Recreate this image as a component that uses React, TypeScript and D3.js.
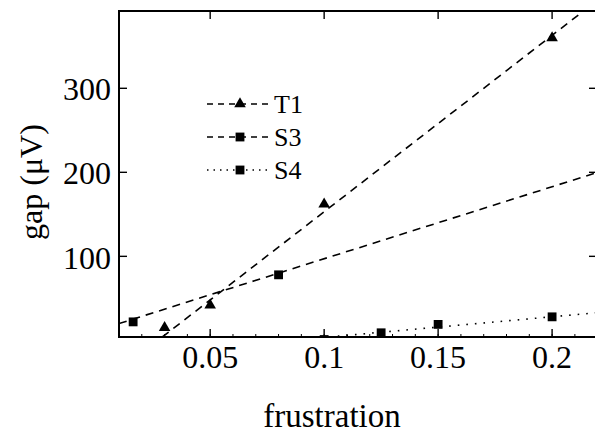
import * as d3 from "d3";

// measured points
const t1Points: [number, number][] = [
  [0.03, 15],
  [0.05, 42],
  [0.1, 162],
  [0.2, 360],
];
const s3Points: [number, number][] = [
  [0.0162, 22],
  [0.08, 78],
];
const s4Points: [number, number][] = [
  [0.1, 1],
  [0.125, 9],
  [0.15, 19],
  [0.2, 28],
];

// fitted lines drawn through the data
const t1Fit: [number, number][] = [
  [0.029, 4],
  [0.22, 405],
];
const s3Fit: [number, number][] = [
  [0.01, 20],
  [0.22, 200],
];
const s4Fit: [number, number][] = [
  [0.106, 5],
  [0.22, 33],
];

const xTicks = [0.05, 0.1, 0.15, 0.2];
const xMinor = d3.range(1, 23).map((d) => d / 100);
const yTicks = [100, 200, 300];

const legendItems = [
  { name: "T1", shape: "tri", dash: "6,5" },
  { name: "S3", shape: "sq", dash: "6,5" },
  { name: "S4", shape: "sq", dash: "1.5,5" },
];

const width = 595;
const height = 440;
const margin = { top: 11, right: -2, bottom: 103, left: 119 };
const innerWidth = width - margin.left - margin.right;
const innerHeight = height - margin.top - margin.bottom;
const font = "Liberation Serif";

const App = () => {
  const x = d3.scaleLinear().domain([0.01, 0.2197]).range([0, innerWidth]);
  const y = d3.scaleLinear().domain([4, 392]).range([innerHeight, 0]);
  const line = d3
    .line<[number, number]>()
    .x((d) => x(d[0]))
    .y((d) => y(d[1]));
  const tri = d3.symbol().type(d3.symbolTriangle).size(58)() || "";
  const sq = d3.symbol().type(d3.symbolSquare).size(78)() || "";

  const fits: [[number, number][], string][] = [
    [t1Fit, "8,6"],
    [s3Fit, "8,6"],
    [s4Fit, "1.6,7"],
  ];

  return (
    <svg width={width} height={height} style={{ position: "absolute", left: 0, top: 0 }}>
      <defs>
        <clipPath id="plot-clip">
          <rect width={innerWidth} height={innerHeight} />
        </clipPath>
      </defs>
      <g transform={`translate(${margin.left},${margin.top})`}>
        <g clipPath="url(#plot-clip)">
          {fits.map(([pts, dash], i) => (
            <path
              key={i}
              d={line(pts) || ""}
              fill="none"
              stroke="#000"
              strokeWidth={1.6}
              strokeDasharray={dash}
            />
          ))}
          {t1Points.map((d, i) => (
            <path key={"t" + i} d={tri} transform={`translate(${x(d[0])},${y(d[1])})`} fill="#000" />
          ))}
          {[...s3Points, ...s4Points].map((d, i) => (
            <path key={"s" + i} d={sq} transform={`translate(${x(d[0])},${y(d[1])})`} fill="#000" />
          ))}
        </g>
        <rect width={innerWidth} height={innerHeight} fill="none" stroke="#000" strokeWidth={2} />
        {xMinor.map((t) => (
          <line key={"m" + t} x1={x(t)} x2={x(t)} y1={innerHeight} y2={innerHeight - 3} stroke="#000" strokeWidth={1} />
        ))}
        {xTicks.map((t) => (
          <g key={"x" + t}>
            <line x1={x(t)} x2={x(t)} y1={innerHeight} y2={innerHeight - 8} stroke="#000" strokeWidth={1.4} />
            <line x1={x(t)} x2={x(t)} y1={0} y2={8} stroke="#000" strokeWidth={1.4} />
            <text
              x={x(t)}
              y={innerHeight + 31}
              textAnchor="middle"
              style={{ fontFamily: font, fontSize: 32 }}
            >
              {String(t)}
            </text>
          </g>
        ))}
        {yTicks.map((t) => (
          <g key={"y" + t}>
            <line x1={0} x2={8} y1={y(t)} y2={y(t)} stroke="#000" strokeWidth={1.4} />
            <line x1={innerWidth} x2={innerWidth - 8} y1={y(t)} y2={y(t)} stroke="#000" strokeWidth={1.4} />
            <text
              x={-8}
              y={y(t)}
              dy="0.38em"
              textAnchor="end"
              style={{ fontFamily: font, fontSize: 32 }}
            >
              {String(t)}
            </text>
          </g>
        ))}
      </g>
      <text x={332} y={427} textAnchor="middle" style={{ fontFamily: font, fontSize: 33 }}>
        frustration
      </text>
      <text
        transform="rotate(-90)"
        x={-182}
        y={42}
        textAnchor="middle"
        style={{ fontFamily: font, fontSize: 32 }}
      >
        gap (μV)
      </text>
      {legendItems.map((item, i) => {
        const ly = 104 + i * 33;
        return (
          <g key={item.name}>
            <line x1={207} x2={272} y1={ly} y2={ly} stroke="#000" strokeWidth={1.4} strokeDasharray={item.dash} />
            <path d={item.shape === "tri" ? tri : sq} transform={`translate(240,${ly})`} fill="#000" />
            <text x={274} y={ly} dy="0.36em" style={{ fontFamily: font, fontSize: 26 }}>
              {item.name}
            </text>
          </g>
        );
      })}
    </svg>
  );
};

export default App;
